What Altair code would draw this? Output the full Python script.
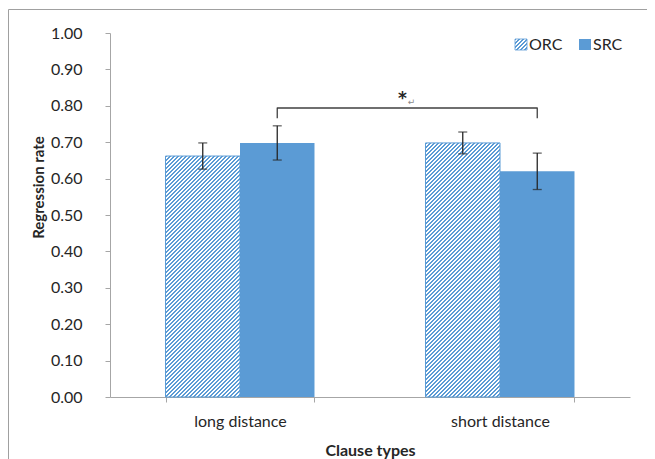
import altair as alt
import pandas as pd

# ---------------- data ----------------
categories = ["long distance", "short distance"]
groups = ["ORC", "SRC"]
orc_means = [0.662, 0.698]
src_means = [0.698, 0.620]
orc_errors = [0.036, 0.030]
src_errors = [0.047, 0.050]
y_ticks = [0.0, 0.1, 0.2, 0.3, 0.4, 0.5, 0.6, 0.7, 0.8, 0.9, 1.0]
bracket_low = 0.766
bracket_high = 0.794
star_level = 0.828
star_label = "*"
star_mark = "\u21b5"

# ---------------- styles ----------------
W, H = 520, 364
BLUE = "#5b9bd5"
TXT = "#262626"
AXC = "#a6a6a6"
FONT = "Lato"
PAD_INNER = 0.427
PAD_OUTER = PAD_INNER / 2

rows = []
for g, ms, es in (("ORC", orc_means, orc_errors), ("SRC", src_means, src_errors)):
    for c, m, e in zip(categories, ms, es):
        rows.append(dict(cat=c, grp=g, mean=m, lo=m - e, hi=m + e))
df = pd.DataFrame(rows)

step = W / (len(categories) - PAD_INNER + 2 * PAD_OUTER)
bar_w = step * (1 - PAD_INNER) / len(groups)


def hatch(w, h, n=None, period=4.0, frac=0.5):
    if n is None:
        n = max(1, round((w + h) / period))
    k = (w + h) / (w * w + h * h)
    stops = []
    for i in range(n):
        o0, o1, o2 = i / n, (i + frac) / n, (i + 1) / n
        stops += [
            alt.GradientStop(offset=o0, color=BLUE),
            alt.GradientStop(offset=o1, color=BLUE),
            alt.GradientStop(offset=o1, color="white"),
            alt.GradientStop(offset=o2, color="white"),
        ]
    return alt.Gradient(gradient="linear", x1=0, y1=0, x2=w * k, y2=h * k, stops=stops)


x_axis = alt.Axis(
    title="Clause types",
    labelAngle=0,
    tickBand="extent",
    tickSize=5,
    labelPadding=11,
    titlePadding=13,
    labelFontSize=16,
    titleFontSize=16,
    titleFontWeight="bold",
    domainColor=AXC,
    tickColor=AXC,
    labelColor=TXT,
    titleColor=TXT,
    labelFont=FONT,
    titleFont=FONT,
)
x_scale = alt.Scale(domain=categories, paddingInner=PAD_INNER, paddingOuter=PAD_OUTER)
x_enc = alt.X("cat:N", sort=categories, scale=x_scale, axis=x_axis)
xo_enc = alt.XOffset("grp:N", sort=groups, scale=alt.Scale(domain=groups, paddingInner=0, paddingOuter=0))
y_scale = alt.Scale(domain=[0, 1], nice=False, zero=True)
y_axis = alt.Axis(
    title="Regression rate",
    values=y_ticks,
    format=".2f",
    grid=False,
    labelOverlap=False,
    tickSize=5,
    labelPadding=23,
    labelFontSize=16,
    titleFontSize=15,
    titleFontWeight="bold",
    titleX=-72,
    titleY=154,
    titleBaseline="middle",
    domainColor=AXC,
    tickColor=AXC,
    labelColor=TXT,
    titleColor=TXT,
    labelFont=FONT,
    titleFont=FONT,
)


def yq(field):
    return alt.Y(field, scale=y_scale, axis=y_axis)


base = alt.Chart(df)

# frame around the chart area
frame = alt.Chart(pd.DataFrame({"f": [0]})).mark_rect(
    fill="white", fillOpacity=0, stroke="#a0a0a0", strokeWidth=1
).encode(x=alt.value(-101.5), y=alt.value(-23.5), x2=alt.value(W + 200), y2=alt.value(H + 200))

layers = [frame]

# hatched ORC bars
for c, m in zip(categories, orc_means):
    layers.append(
        base.transform_filter((alt.datum.grp == "ORC") & (alt.datum.cat == c))
        .mark_bar(fill=hatch(bar_w, m * H), stroke=BLUE, strokeWidth=1)
        .encode(x=x_enc, xOffset=xo_enc, y=yq("mean:Q"))
    )

# solid SRC bars
layers.append(
    base.transform_filter(alt.datum.grp == "SRC")
    .mark_bar(fill=BLUE)
    .encode(x=x_enc, xOffset=xo_enc, y=yq("mean:Q"))
)

# error bars
layers.append(
    base.mark_rule(color=TXT, strokeWidth=1.3).encode(
        x=x_enc, xOffset=xo_enc, y=yq("lo:Q"), y2="hi:Q"
    )
)
for f in ("lo", "hi"):
    layers.append(
        base.mark_tick(color=TXT, size=9, thickness=1.3, orient="horizontal").encode(
            x=x_enc, xOffset=xo_enc, y=yq(f + ":Q")
        )
    )

# significance bracket
bracket_df = pd.DataFrame(
    {
        "cat": [categories[0], categories[0], categories[1], categories[1]],
        "grp": ["SRC", "SRC", "SRC", "SRC"],
        "v": [bracket_low, bracket_high, bracket_high, bracket_low],
        "o": [0, 1, 2, 3],
    }
)
layers.append(
    alt.Chart(bracket_df)
    .mark_line(color="#404040", strokeWidth=1.3, strokeJoin="round")
    .encode(x=x_enc, xOffset=xo_enc, y=yq("v:Q"), order="o:Q")
)

star_x = alt.X("cat:N", bandPosition=1, scale=x_scale, axis=x_axis)
star_df = pd.DataFrame({"cat": [categories[0]], "v": [star_level], "t": [star_label], "r": [star_mark]})
layers.append(
    alt.Chart(star_df)
    .mark_text(font="DejaVu Sans", fontSize=17, fontWeight="bold", color=TXT, dx=88, dy=3, baseline="middle")
    .encode(x=star_x, y=yq("v:Q"), text="t:N")
)
layers.append(
    alt.Chart(star_df)
    .mark_text(font="DejaVu Sans", fontSize=9, color="#8a8a8a", dx=97, dy=6, baseline="middle")
    .encode(x=star_x, y=yq("v:Q"), text="r:N")
)

# legend
leg_df = pd.DataFrame({"label": groups})
layers.append(
    alt.Chart(leg_df.iloc[[0]]).mark_rect(fill=hatch(12, 11, n=6), stroke=BLUE, strokeWidth=0.8).encode(
        x=alt.value(405), x2=alt.value(417), y=alt.value(6), y2=alt.value(17)
    )
)
layers.append(
    alt.Chart(leg_df.iloc[[1]]).mark_rect(fill=BLUE).encode(
        x=alt.value(469), x2=alt.value(481), y=alt.value(6), y2=alt.value(17)
    )
)
layers.append(
    alt.Chart(leg_df.iloc[[0]]).mark_text(font=FONT, fontSize=16, color=TXT, align="left", baseline="middle").encode(
        x=alt.value(419), y=alt.value(12), text="label:N"
    )
)
layers.append(
    alt.Chart(leg_df.iloc[[1]]).mark_text(font=FONT, fontSize=16, color=TXT, align="left", baseline="middle").encode(
        x=alt.value(483), y=alt.value(12), text="label:N"
    )
)

chart = (
    alt.layer(*layers)
    .properties(
        width=W,
        height=H,
        autosize=alt.AutoSizeParams(type="none"),
        padding={"left": 102, "top": 25, "right": 17, "bottom": 62},
        background="white",
    )
    .configure_view(strokeWidth=0)
)

chart.save("out.html", embed_options={"renderer": "svg", "actions": False})
